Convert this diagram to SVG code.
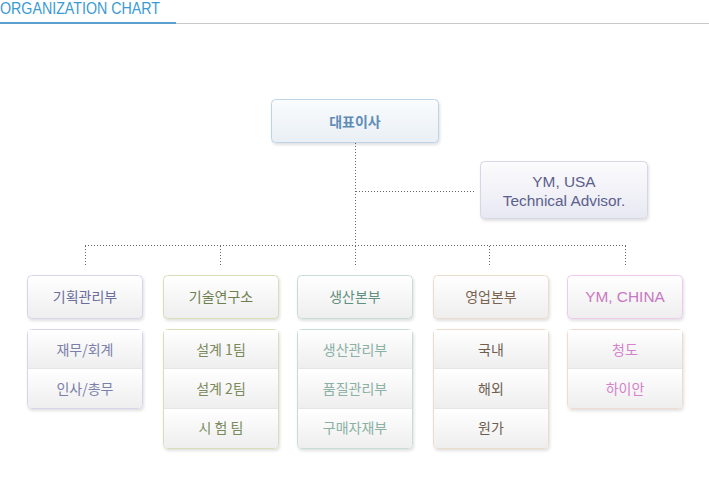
<svg xmlns="http://www.w3.org/2000/svg" width="709" height="501" viewBox="0 0 709 501">
<defs>
<linearGradient id="gb" x1="0" y1="0" x2="0" y2="1"><stop offset="0" stop-color="#ffffff"/><stop offset="1" stop-color="#eeeeee"/></linearGradient>
<linearGradient id="gtop" x1="0" y1="0" x2="0" y2="1"><stop offset="0" stop-color="#fafcfe"/><stop offset="1" stop-color="#e9eff4"/></linearGradient>
<linearGradient id="gadv" x1="0" y1="0" x2="0" y2="1"><stop offset="0" stop-color="#fcfcfe"/><stop offset="1" stop-color="#e8e8f2"/></linearGradient>
<filter id="sh" x="-10%" y="-10%" width="125%" height="135%"><feDropShadow dx="1" dy="2" stdDeviation="1.5" flood-color="#000" flood-opacity="0.12"/></filter>
</defs>
<style>
.kr{font-family:"Noto Sans CJK KR","Noto Sans",sans-serif;font-size:14px;text-anchor:middle}
.en{font-family:"Liberation Sans",Arial,sans-serif;font-size:15.4px;text-anchor:middle}
.dot{stroke:#666;stroke-width:1;stroke-dasharray:1 2;fill:none}
.div{stroke:#e6e6e6;stroke-width:1}
</style>
<g id="header">
<text x="0" y="14" font-family="'Liberation Sans',Arial,sans-serif" font-size="16.5" fill="#3a9ad4" textLength="160" lengthAdjust="spacingAndGlyphs">ORGANIZATION CHART</text>
<rect x="0" y="22" width="176" height="2" fill="#5a9fd0"/>
<rect x="176" y="23" width="533" height="1" fill="#c8c8c8"/>
</g>
<g id="connectors">
<line class="dot" x1="355.5" y1="143" x2="355.5" y2="245"/>
<line class="dot" x1="356" y1="191.5" x2="474" y2="191.5"/>
<line class="dot" x1="85" y1="245.5" x2="626" y2="245.5"/>
<line class="dot" x1="85.5" y1="246" x2="85.5" y2="267"/>
<line class="dot" x1="220.5" y1="246" x2="220.5" y2="267"/>
<line class="dot" x1="355.5" y1="246" x2="355.5" y2="267"/>
<line class="dot" x1="489.5" y1="246" x2="489.5" y2="267"/>
<line class="dot" x1="625.5" y1="246" x2="625.5" y2="267"/>
</g>
<g id="ceo">
<rect x="271.5" y="99.5" width="167" height="43" rx="4" fill="url(#gtop)" stroke="#bcd4ea" filter="url(#sh)"/>
<text class="kr" x="355" y="127" font-size="15" font-weight="bold" fill="#5f8db8">대표이사</text>
</g>
<g id="advisor">
<rect x="480.5" y="161.5" width="167" height="57" rx="4" fill="url(#gadv)" stroke="#d6d6e6" filter="url(#sh)"/>
<text class="en" x="564" y="187" fill="#5c608c">YM, USA</text>
<text class="en" x="564" y="206" fill="#5c608c">Technical Advisor.</text>
</g>
<g id="dept1">
<rect x="27.5" y="275.5" width="115" height="43" rx="4" fill="url(#gb)" stroke="#d6d6ea" filter="url(#sh)"/>
<text class="kr" x="85" y="302" fill="#6a6e9c">기획관리부</text>
<rect x="27.5" y="329.5" width="115" height="79" rx="4" fill="#fff" stroke="#d6d6ea" filter="url(#sh)"/>
<rect x="28" y="330" width="114" height="38" fill="url(#gb)"/>
<rect x="28" y="369" width="114" height="39" rx="3" fill="url(#gb)"/>
<line class="div" x1="28" y1="368.5" x2="142" y2="368.5"/>
<text class="kr" x="85" y="355" fill="#7b7fa9">재무/회계</text>
<text class="kr" x="85" y="394" fill="#7b7fa9">인사/총무</text>
</g>
<g id="dept2">
<rect x="163.5" y="275.5" width="115" height="43" rx="4" fill="url(#gb)" stroke="#d8deb8" filter="url(#sh)"/>
<text class="kr" x="221" y="302" fill="#6f8050">기술연구소</text>
<rect x="163.5" y="329.5" width="115" height="119" rx="4" fill="#fff" stroke="#d8deb8" filter="url(#sh)"/>
<rect x="164" y="330" width="114" height="38" fill="url(#gb)"/>
<rect x="164" y="369" width="114" height="39" fill="url(#gb)"/>
<rect x="164" y="409" width="114" height="39" rx="3" fill="url(#gb)"/>
<line class="div" x1="164" y1="368.5" x2="278" y2="368.5"/>
<line class="div" x1="164" y1="408.5" x2="278" y2="408.5"/>
<text class="kr" x="221" y="355" fill="#7a8a5c">설계 1팀</text>
<text class="kr" x="221" y="394" fill="#7a8a5c">설계 2팀</text>
<text class="kr" x="221" y="433" fill="#7a8a5c">시 험 팀</text>
</g>
<g id="dept3">
<rect x="297.5" y="275.5" width="115" height="43" rx="4" fill="url(#gb)" stroke="#c8ddd8" filter="url(#sh)"/>
<text class="kr" x="355" y="302" fill="#5f9080">생산본부</text>
<rect x="297.5" y="329.5" width="115" height="119" rx="4" fill="#fff" stroke="#c8ddd8" filter="url(#sh)"/>
<rect x="298" y="330" width="114" height="38" fill="url(#gb)"/>
<rect x="298" y="369" width="114" height="39" fill="url(#gb)"/>
<rect x="298" y="409" width="114" height="39" rx="3" fill="url(#gb)"/>
<line class="div" x1="298" y1="368.5" x2="412" y2="368.5"/>
<line class="div" x1="298" y1="408.5" x2="412" y2="408.5"/>
<text class="kr" x="355" y="355" fill="#8bb0a4">생산관리부</text>
<text class="kr" x="355" y="394" fill="#8bb0a4">품질관리부</text>
<text class="kr" x="355" y="433" fill="#8bb0a4">구매자재부</text>
</g>
<g id="dept4">
<rect x="433.5" y="275.5" width="115" height="43" rx="4" fill="url(#gb)" stroke="#ecdccc" filter="url(#sh)"/>
<text class="kr" x="491" y="302" fill="#7a6450">영업본부</text>
<rect x="433.5" y="329.5" width="115" height="119" rx="4" fill="#fff" stroke="#ecdccc" filter="url(#sh)"/>
<rect x="434" y="330" width="114" height="38" fill="url(#gb)"/>
<rect x="434" y="369" width="114" height="39" fill="url(#gb)"/>
<rect x="434" y="409" width="114" height="39" rx="3" fill="url(#gb)"/>
<line class="div" x1="434" y1="368.5" x2="548" y2="368.5"/>
<line class="div" x1="434" y1="408.5" x2="548" y2="408.5"/>
<text class="kr" x="491" y="355" fill="#6e5e50">국내</text>
<text class="kr" x="491" y="394" fill="#6e5e50">해외</text>
<text class="kr" x="491" y="433" fill="#6e5e50">원가</text>
</g>
<g id="dept5">
<rect x="567.5" y="275.5" width="115" height="43" rx="4" fill="url(#gb)" stroke="#eecaee" filter="url(#sh)"/>
<text class="en" x="625" y="302" font-size="14.2" fill="#c878c2">YM, CHINA</text>
<rect x="567.5" y="329.5" width="115" height="79" rx="4" fill="#fff" stroke="#eedcd2" filter="url(#sh)"/>
<rect x="568" y="330" width="114" height="38" fill="url(#gb)"/>
<rect x="568" y="369" width="114" height="39" rx="3" fill="url(#gb)"/>
<line class="div" x1="568" y1="368.5" x2="682" y2="368.5"/>
<text class="kr" x="625" y="355" fill="#d482cc">청도</text>
<text class="kr" x="625" y="394" fill="#d482cc">하이안</text>
</g>
</svg>
